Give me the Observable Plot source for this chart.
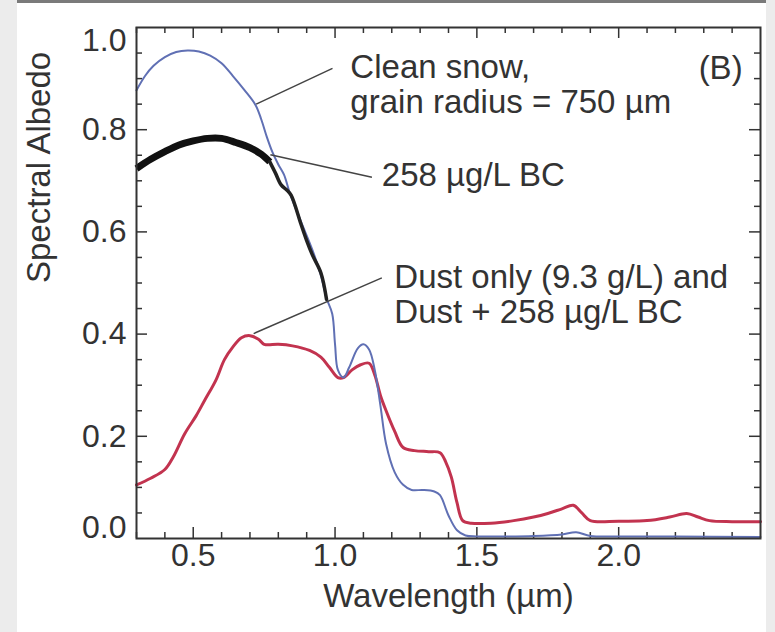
<!DOCTYPE html>
<html>
<head>
<meta charset="utf-8">
<script src="https://cdn.jsdelivr.net/npm/d3@7"></script>
<script src="https://cdn.jsdelivr.net/npm/@observablehq/plot@0.6"></script>
<style>
  html, body { margin: 0; padding: 0; background: #ececec; }
  #wrap { position: relative; width: 775px; height: 632px; overflow: hidden; }
  #bg { position: absolute; left: 17px; top: 0; width: 749px; height: 632px; background: #fff; border-top: 3px solid #7a7a7a; box-sizing: border-box; }
  #chart { position: absolute; left: 0; top: 0; }
</style>
</head>
<body>
<div id="wrap"><div id="bg"></div><div id="chart"></div></div>
<script>
// Clean snow (grain radius = 750 µm)
const cleanWl = [0.30,0.33,0.36,0.40,0.44,0.48,0.52,0.56,0.60,0.64,0.68,0.72,0.74,0.76,0.78,0.80,0.82,0.84,0.88,0.92,0.95,0.97,0.99,1.00,1.01,1.03,1.05,1.08,1.10,1.12,1.14,1.16,1.18,1.21,1.24,1.27,1.31,1.35,1.37,1.40,1.43,1.46,1.50,1.60,1.70,1.80,1.85,1.90,2.00,2.20,2.50];
const cleanAlb = [0.877,0.905,0.925,0.942,0.952,0.955,0.953,0.945,0.930,0.905,0.878,0.848,0.820,0.785,0.755,0.732,0.712,0.677,0.620,0.565,0.515,0.470,0.440,0.380,0.330,0.315,0.335,0.372,0.380,0.370,0.330,0.260,0.185,0.130,0.105,0.095,0.095,0.092,0.085,0.045,0.016,0.006,0.004,0.004,0.005,0.008,0.012,0.005,0.004,0.004,0.003];

// 258 µg/L BC (thick black band, then thinner)
const bcWl = [0.30,0.35,0.40,0.45,0.50,0.55,0.60,0.65,0.70,0.74,0.77,0.79,0.81,0.83,0.845,0.88,0.90,0.92,0.95,0.97];
const bcAlb = [0.724,0.742,0.757,0.770,0.778,0.783,0.783,0.775,0.765,0.752,0.737,0.715,0.692,0.682,0.672,0.615,0.583,0.555,0.520,0.468];
const bcThickEnd = 0.77;

// Dust only (9.3 g/L) and Dust + 258 µg/L BC
const dustWl = [0.30,0.35,0.40,0.43,0.47,0.51,0.54,0.58,0.61,0.64,0.67,0.70,0.73,0.75,0.80,0.85,0.91,0.95,0.98,1.01,1.03,1.06,1.09,1.12,1.14,1.16,1.18,1.21,1.24,1.28,1.33,1.37,1.39,1.41,1.43,1.45,1.48,1.55,1.63,1.70,1.75,1.80,1.84,1.87,1.90,2.00,2.10,2.18,2.24,2.28,2.32,2.40,2.50];
const dustAlb = [0.105,0.118,0.135,0.160,0.205,0.240,0.270,0.310,0.350,0.375,0.393,0.397,0.390,0.380,0.380,0.377,0.368,0.355,0.335,0.315,0.315,0.330,0.340,0.343,0.320,0.280,0.250,0.210,0.178,0.172,0.170,0.168,0.150,0.120,0.070,0.035,0.030,0.030,0.035,0.042,0.049,0.058,0.065,0.050,0.035,0.034,0.035,0.042,0.049,0.042,0.035,0.033,0.033];

// Axes
const xTickLabels = [0.5, 1.0, 1.5, 2.0];
const xMinorTicks = [0.3,0.4,0.6,0.7,0.8,0.9,1.1,1.2,1.3,1.4,1.6,1.7,1.8,1.9,2.1,2.2,2.3,2.4];
const yTickLabelsMid = [0.2, 0.4, 0.6, 0.8];
const yTickTop = [1.0];
const yTickBottom = [0.0];
const yMajorTicks = [0.2, 0.4, 0.6, 0.8];
const yMinorTicks = [0.05,0.1,0.15,0.25,0.3,0.35,0.45,0.5,0.55,0.65,0.7,0.75,0.85,0.9,0.95];

// Annotations (multi-line labels use "\n")
const annoText = ["Clean snow,\ngrain radius = 750 µm", "258 µg/L BC", "Dust only (9.3 g/L) and\nDust + 258 µg/L BC"];
const annoX = [1.054, 1.165, 1.209];
const annoY = [0.8887, 0.711, 0.4777];
const leaderX1 = [0.722, 0.772, 0.713];
const leaderY1 = [0.850, 0.751, 0.401];
const leaderX2 = [0.991, 1.130, 1.165];
const leaderY2 = [0.920, 0.707, 0.510];
const panelLabel = ["(B)"];
const panelX = [2.437];
const panelY = [0.920];

const zip = (xs, ys) => xs.map((x, i) => ({x, y: ys[i]}));
const clean = zip(cleanWl, cleanAlb);
const bc = zip(bcWl, bcAlb);
const bcThick = bc.filter(d => d.x <= bcThickEnd);
const bcThin = bc.filter(d => d.x >= bcThickEnd);
const dust = zip(dustWl, dustAlb);
const annos = annoText.map((t, i) => ({t, x: annoX[i], y: annoY[i]}));
const leaders = leaderX1.map((x1, i) => ({x1, y1: leaderY1[i], x2: leaderX2[i], y2: leaderY2[i]}));
const panel = panelLabel.map((t, i) => ({t, x: panelX[i], y: panelY[i]}));

const W = 775, H = 632;
const mL = 136, mR = 15, mT = 27, mB = 94;
const innerW = W - mL - mR, innerH = H - mT - mB;
const fmt = d3.format(".1f");
const ink = "#333";
const fs = 33;

const chart = Plot.plot({
  width: W, height: H,
  marginLeft: mL, marginRight: mR, marginTop: mT, marginBottom: mB,
  x: {domain: [0.3, 2.5], axis: null},
  y: {domain: [0, 1], axis: null},
  style: {background: "transparent", fontFamily: "'Liberation Sans', Arial, sans-serif", color: ink},
  marks: [
    // inward ticks
    Plot.tickX(xMinorTicks, {x: d => d, insetTop: innerH - 6, stroke: ink, strokeWidth: 1.5}),
    Plot.tickX(xTickLabels, {x: d => d, insetTop: innerH - 11, stroke: ink, strokeWidth: 1.5}),
    Plot.tickX(xMinorTicks, {x: d => d, insetBottom: innerH - 6, stroke: ink, strokeWidth: 1.5}),
    Plot.tickX(xTickLabels, {x: d => d, insetBottom: innerH - 11, stroke: ink, strokeWidth: 1.5}),
    Plot.tickY(yMinorTicks, {y: d => d, insetRight: innerW - 6, stroke: ink, strokeWidth: 1.5}),
    Plot.tickY(yMajorTicks, {y: d => d, insetRight: innerW - 11, stroke: ink, strokeWidth: 1.5}),
    Plot.tickY(yMinorTicks, {y: d => d, insetLeft: innerW - 6, stroke: ink, strokeWidth: 1.5}),
    Plot.tickY(yMajorTicks, {y: d => d, insetLeft: innerW - 11, stroke: ink, strokeWidth: 1.5}),
    // data
    Plot.line(dust, {x: "x", y: "y", stroke: "#c2334f", strokeWidth: 3, curve: "catmull-rom"}),
    Plot.line(clean, {x: "x", y: "y", stroke: "#6070b4", strokeWidth: 2, curve: "catmull-rom"}),
    Plot.line(bcThick, {x: "x", y: "y", stroke: "#111", strokeWidth: 7, curve: "catmull-rom", strokeLinecap: "butt"}),
    Plot.line(bcThin, {x: "x", y: "y", stroke: "#222", strokeWidth: 3.5, curve: "catmull-rom"}),
    // annotations
    Plot.link(leaders, {x1: "x1", y1: "y1", x2: "x2", y2: "y2", stroke: "#444", strokeWidth: 1.5}),
    Plot.text(annos, {x: "x", y: "y", text: "t", textAnchor: "start", lineHeight: 35 / 33, fontSize: fs, fill: ink}),
    Plot.text(panel, {x: "x", y: "y", text: "t", textAnchor: "end", fontSize: fs, fill: ink}),
    // tick labels
    Plot.text(xTickLabels, {x: d => d, frameAnchor: "bottom", dy: 27, text: d => fmt(d), fontSize: 32, fill: ink}),
    Plot.text(yTickLabelsMid, {y: d => d, frameAnchor: "left", dx: -10, textAnchor: "end", text: d => fmt(d), fontSize: 32, fill: ink}),
    Plot.text(yTickTop, {y: d => d, frameAnchor: "left", dx: -10, dy: 13, textAnchor: "end", text: d => fmt(d), fontSize: 32, fill: ink}),
    Plot.text(yTickBottom, {y: d => d, frameAnchor: "left", dx: -10, dy: -11, textAnchor: "end", text: d => fmt(d), fontSize: 32, fill: ink}),
    // axis titles
    Plot.text(["Wavelength (µm)"], {frameAnchor: "bottom", dy: 68, text: d => d, fontSize: fs, fill: ink}),
    Plot.text(["Spectral Albedo"], {frameAnchor: "left", dx: -97, rotate: -90, text: d => d, fontSize: fs, fill: ink}),
    Plot.frame({stroke: ink, strokeWidth: 2})
  ]
});
document.getElementById("chart").appendChild(chart);
</script>
</body>
</html>
